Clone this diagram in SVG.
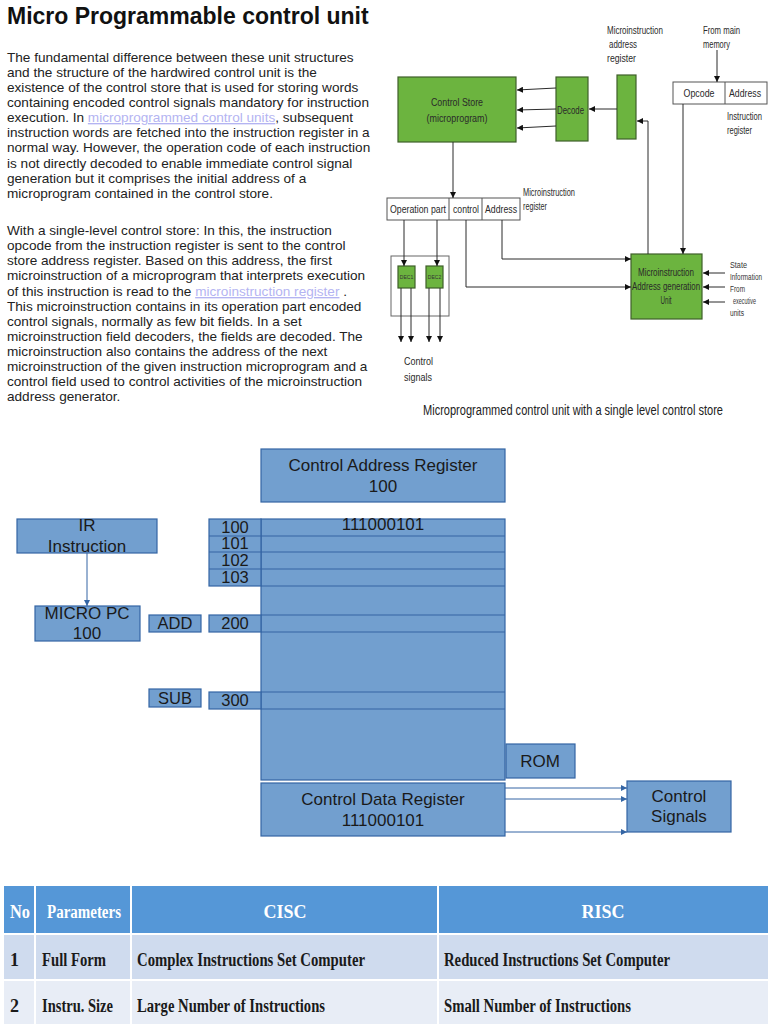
<svg xmlns="http://www.w3.org/2000/svg" width="768" height="1024" viewBox="0 0 768 1024">
<style>
.p{font-family:"Liberation Sans",Arial,sans-serif;font-size:13.6px;fill:#222}
.lk{fill:#b4b4f2;text-decoration:underline}
.g{fill:#6cb43f;stroke:#3f5f2a;stroke-width:1.2}
.w{fill:#fff;stroke:#555;stroke-width:1}
.t{font-family:"Liberation Sans",Arial,sans-serif;font-size:11px;fill:#2a2a2a}
.s{font-family:"Liberation Sans",Arial,sans-serif;font-size:8.5px;fill:#333}
.c{stroke:#2b2b2b;stroke-width:1;fill:none}
.b{fill:#729fcf;stroke:#3465a4;stroke-width:1.2}
.bt{font-family:"Liberation Sans",Arial,sans-serif;font-size:17px;fill:#1a1a1a}
.bs{font-family:"Liberation Sans",Arial,sans-serif;font-size:16.5px;fill:#1a1a1a}
.bl{stroke:#3465a4;stroke-width:1;fill:none}
.th{font-family:"Liberation Serif","Times New Roman",serif;font-weight:bold;font-size:18px;fill:#fff}
.td{font-family:"Liberation Serif","Times New Roman",serif;font-weight:bold;font-size:18px;fill:#1a1a1a}
</style>
<defs>
<marker id="ak" viewBox="0 0 10 10" refX="10" refY="5" markerWidth="6" markerHeight="6" markerUnits="userSpaceOnUse" orient="auto"><path d="M0,0 L10,5 L0,10 z" fill="#111"/></marker>
<marker id="ab" viewBox="0 0 10 10" refX="10" refY="5" markerWidth="6" markerHeight="6" markerUnits="userSpaceOnUse" orient="auto"><path d="M0,0 L10,5 L0,10 z" fill="#3465a4"/></marker>
</defs>
<rect width="768" height="1024" fill="#fff"/>

<g id="article">
<text x="7" y="24" font-family="Liberation Sans,Arial,sans-serif" font-weight="bold" font-size="23" fill="#111">Micro Programmable control unit</text>
<text class="p" x="7" y="62">The fundamental difference between these unit structures</text>
<text class="p" x="7" y="77">and the structure of the hardwired control unit is the</text>
<text class="p" x="7" y="92">existence of the control store that is used for storing words</text>
<text class="p" x="7" y="107">containing encoded control signals mandatory for instruction</text>
<text class="p" x="7" y="122">execution. In <tspan class="lk">microprogrammed control units</tspan>, subsequent</text>
<text class="p" x="7" y="137">instruction words are fetched into the instruction register in a</text>
<text class="p" x="7" y="152">normal way. However, the operation code of each instruction</text>
<text class="p" x="7" y="168">is not directly decoded to enable immediate control signal</text>
<text class="p" x="7" y="183">generation but it comprises the initial address of a</text>
<text class="p" x="7" y="198">microprogram contained in the control store.</text>
<text class="p" x="7" y="235">With a single-level control store: In this, the instruction</text>
<text class="p" x="7" y="250">opcode from the instruction register is sent to the control</text>
<text class="p" x="7" y="265">store address register. Based on this address, the first</text>
<text class="p" x="7" y="280">microinstruction of a microprogram that interprets execution</text>
<text class="p" x="7" y="296">of this instruction is read to the <tspan class="lk">microinstruction register</tspan> .</text>
<text class="p" x="7" y="311">This microinstruction contains in its operation part encoded</text>
<text class="p" x="7" y="326">control signals, normally as few bit fields. In a set</text>
<text class="p" x="7" y="341">microinstruction field decoders, the fields are decoded. The</text>
<text class="p" x="7" y="356">microinstruction also contains the address of the next</text>
<text class="p" x="7" y="371">microinstruction of the given instruction microprogram and a</text>
<text class="p" x="7" y="386">control field used to control activities of the microinstruction</text>
<text class="p" x="7" y="401">address generator.</text>
</g>

<!-- top-right diagram nodes -->
<g id="control-store"><rect class="g" x="398" y="77" width="118" height="65"/>
<text class="t" x="457" y="106" text-anchor="middle" textLength="52" lengthAdjust="spacingAndGlyphs">Control Store</text>
<text class="t" x="457" y="122" text-anchor="middle" textLength="61" lengthAdjust="spacingAndGlyphs">(microprogram)</text></g>
<g id="decode"><rect class="g" x="556" y="77" width="32" height="64"/>
<text class="t" x="557" y="114" textLength="27" lengthAdjust="spacingAndGlyphs">Decode</text></g>
<g id="mar"><rect class="g" x="617" y="75" width="19" height="64"/>
<text class="t" x="607" y="34" textLength="56" lengthAdjust="spacingAndGlyphs">Microinstruction</text>
<text class="t" x="609" y="48" textLength="28" lengthAdjust="spacingAndGlyphs">address</text>
<text class="t" x="607" y="62" textLength="29" lengthAdjust="spacingAndGlyphs">register</text></g>
<g id="memory-label"><text class="t" x="703" y="34" textLength="37" lengthAdjust="spacingAndGlyphs">From main</text>
<text class="t" x="703" y="48" textLength="27" lengthAdjust="spacingAndGlyphs">memory</text></g>
<g id="instruction-register"><rect class="w" x="673" y="82" width="94" height="22"/><line x1="725" y1="82" x2="725" y2="104" stroke="#555"/>
<text class="t" x="699" y="97" text-anchor="middle" textLength="31" lengthAdjust="spacingAndGlyphs">Opcode</text>
<text class="t" x="745" y="97" text-anchor="middle" textLength="32" lengthAdjust="spacingAndGlyphs">Address</text>
<text class="t" x="727" y="120" textLength="35" lengthAdjust="spacingAndGlyphs">Instruction</text>
<text class="t" x="727" y="134" textLength="25" lengthAdjust="spacingAndGlyphs">register</text></g>
<g id="microinstruction-register"><rect class="w" x="387" y="198" width="133" height="22"/>
<line x1="449" y1="198" x2="449" y2="220" stroke="#555"/><line x1="482" y1="198" x2="482" y2="220" stroke="#555"/>
<text class="t" x="418" y="213" text-anchor="middle" textLength="56" lengthAdjust="spacingAndGlyphs">Operation part</text>
<text class="t" x="466" y="213" text-anchor="middle" textLength="26" lengthAdjust="spacingAndGlyphs">control</text>
<text class="t" x="501" y="213" text-anchor="middle" textLength="32" lengthAdjust="spacingAndGlyphs">Address</text>
<text class="t" x="523" y="196" textLength="52" lengthAdjust="spacingAndGlyphs">Microinstruction</text>
<text class="t" x="523" y="210" textLength="24" lengthAdjust="spacingAndGlyphs">register</text></g>
<g id="decoders"><rect x="391" y="256" width="58" height="60" fill="none" stroke="#666"/>
<rect class="g" x="398" y="266" width="17" height="22"/><rect class="g" x="426" y="266" width="17" height="22"/>
<text x="406.5" y="279" text-anchor="middle" font-family="Liberation Sans,Arial,sans-serif" font-size="5" fill="#333">DEC1</text>
<text x="434.5" y="279" text-anchor="middle" font-family="Liberation Sans,Arial,sans-serif" font-size="5" fill="#333">DEC2</text>
<text class="t" x="404" y="365" textLength="29" lengthAdjust="spacingAndGlyphs">Control</text>
<text class="t" x="404" y="381" textLength="28" lengthAdjust="spacingAndGlyphs">signals</text></g>
<g id="address-generation-unit"><rect class="g" x="631" y="254" width="71" height="65"/>
<text class="t" x="666" y="276" text-anchor="middle" textLength="56" lengthAdjust="spacingAndGlyphs">Microinstruction</text>
<text class="t" x="666" y="290" text-anchor="middle" textLength="68" lengthAdjust="spacingAndGlyphs">Address generation</text>
<text class="t" x="666" y="304" text-anchor="middle" textLength="11" lengthAdjust="spacingAndGlyphs">Unit</text>
<text class="s" x="730" y="268" textLength="17" lengthAdjust="spacingAndGlyphs">State</text>
<text class="s" x="730" y="280" textLength="32" lengthAdjust="spacingAndGlyphs">Information</text>
<text class="s" x="730" y="292" textLength="15" lengthAdjust="spacingAndGlyphs">From</text>
<text class="s" x="733" y="304" textLength="23" lengthAdjust="spacingAndGlyphs">executive</text>
<text class="s" x="730" y="316" textLength="14" lengthAdjust="spacingAndGlyphs">units</text></g>
<text x="573" y="415" text-anchor="middle" font-family="Liberation Sans,Arial,sans-serif" font-size="14" fill="#222" textLength="300" lengthAdjust="spacingAndGlyphs">Microprogrammed control unit with a single level control store</text>

<g id="connectors">
<line class="c" x1="556" y1="88" x2="517" y2="90" marker-end="url(#ak)"/>
<line class="c" x1="556" y1="109" x2="517" y2="110" marker-end="url(#ak)"/>
<line class="c" x1="556" y1="126" x2="517" y2="128" marker-end="url(#ak)"/>
<line class="c" x1="617" y1="109" x2="589" y2="109" marker-end="url(#ak)"/>
<polyline class="c" points="648,254 648,121 637,121" marker-end="url(#ak)"/>
<line class="c" x1="717" y1="50" x2="717" y2="82" marker-end="url(#ak)"/>
<line class="c" x1="683" y1="104" x2="683" y2="254" marker-end="url(#ak)"/>
<line class="c" x1="453" y1="142" x2="453" y2="198" marker-end="url(#ak)"/>
<line class="c" x1="404" y1="220" x2="404" y2="266" marker-end="url(#ak)"/>
<line class="c" x1="437" y1="220" x2="437" y2="266" marker-end="url(#ak)"/>
<line class="c" x1="401" y1="288" x2="401" y2="342" marker-end="url(#ak)"/>
<line class="c" x1="411" y1="288" x2="411" y2="342" marker-end="url(#ak)"/>
<line class="c" x1="429" y1="288" x2="429" y2="342" marker-end="url(#ak)"/>
<line class="c" x1="440" y1="288" x2="440" y2="342" marker-end="url(#ak)"/>
<polyline class="c" points="466,220 466,287 631,287" marker-end="url(#ak)"/>
<polyline class="c" points="502,220 502,259 631,259" marker-end="url(#ak)"/>
<line class="c" x1="725" y1="273" x2="703" y2="273" marker-end="url(#ak)"/>
<line class="c" x1="725" y1="287" x2="703" y2="287" marker-end="url(#ak)"/>
<line class="c" x1="725" y1="302" x2="703" y2="302" marker-end="url(#ak)"/>
<line class="bl" x1="87" y1="553" x2="87" y2="606" marker-end="url(#ab)"/>
<line class="bl" x1="505" y1="788" x2="627" y2="788" marker-end="url(#ab)"/>
<line class="bl" x1="505" y1="799" x2="627" y2="799" marker-end="url(#ab)"/>
<line class="bl" x1="505" y1="832" x2="627" y2="832" marker-end="url(#ab)"/>
</g>

<!-- middle diagram -->
<g id="control-address-register"><rect class="b" x="261" y="449" width="244" height="53"/>
<text class="bt" x="383" y="471" text-anchor="middle">Control Address Register</text>
<text class="bt" x="383" y="492" text-anchor="middle">100</text></g>
<g id="rom-memory"><rect class="b" x="261" y="519" width="244" height="261"/>
<g stroke="#3465a4" stroke-width="1.2">
<line x1="261" y1="536" x2="505" y2="536"/><line x1="261" y1="552" x2="505" y2="552"/>
<line x1="261" y1="569" x2="505" y2="569"/><line x1="261" y1="586" x2="505" y2="586"/>
<line x1="261" y1="615" x2="505" y2="615"/><line x1="261" y1="632" x2="505" y2="632"/>
<line x1="261" y1="692" x2="505" y2="692"/><line x1="261" y1="709" x2="505" y2="709"/></g>
<text class="bt" x="383" y="530" text-anchor="middle">111000101</text></g>
<g id="addr-100-103"><rect class="b" x="209" y="519" width="52" height="67"/>
<line x1="209" y1="536" x2="261" y2="536" stroke="#3465a4" stroke-width="1.2"/><line x1="209" y1="552" x2="261" y2="552" stroke="#3465a4" stroke-width="1.2"/><line x1="209" y1="569" x2="261" y2="569" stroke="#3465a4" stroke-width="1.2"/>
<text class="bs" x="235" y="533" text-anchor="middle">100</text>
<text class="bs" x="235" y="549" text-anchor="middle">101</text>
<text class="bs" x="235" y="566" text-anchor="middle">102</text>
<text class="bs" x="235" y="583" text-anchor="middle">103</text></g>
<g id="addr-200"><rect class="b" x="209" y="615" width="52" height="17"/><text class="bs" x="235" y="629" text-anchor="middle">200</text></g>
<g id="addr-300"><rect class="b" x="209" y="692" width="52" height="17"/><text class="bs" x="235" y="706" text-anchor="middle">300</text></g>
<g id="ir-instruction"><rect class="b" x="17" y="519" width="140" height="34"/>
<text class="bt" x="87" y="531" text-anchor="middle">IR</text>
<text class="bt" x="87" y="552" text-anchor="middle">Instruction</text></g>
<g id="micro-pc"><rect class="b" x="35" y="606" width="105" height="35"/>
<text class="bt" x="87" y="619" text-anchor="middle">MICRO PC</text>
<text class="bt" x="87" y="639" text-anchor="middle">100</text></g>
<g id="add"><rect class="b" x="149" y="615" width="52" height="17"/><text class="bs" x="175" y="629" text-anchor="middle">ADD</text></g>
<g id="sub"><rect class="b" x="149" y="689" width="52" height="18"/><text class="bs" x="175" y="704" text-anchor="middle">SUB</text></g>
<g id="rom"><rect class="b" x="506" y="744" width="69" height="34"/><text class="bt" x="540" y="767" text-anchor="middle">ROM</text></g>
<g id="control-data-register"><rect class="b" x="261" y="783" width="244" height="53"/>
<text class="bt" x="383" y="805" text-anchor="middle">Control Data Register</text>
<text class="bt" x="383" y="826" text-anchor="middle">111000101</text></g>
<g id="control-signals"><rect class="b" x="627" y="781" width="104" height="51"/>
<text class="bt" x="679" y="802" text-anchor="middle">Control</text>
<text class="bt" x="679" y="822" text-anchor="middle">Signals</text></g>

<!-- table -->
<g id="table">
<rect x="4" y="886" width="764" height="47" fill="#5597d7"/>
<rect x="4" y="935" width="764" height="44" fill="#cfdbee"/>
<rect x="4" y="981" width="764" height="43" fill="#e8edf6"/>
<g stroke="#fff" stroke-width="2"><line x1="35" y1="886" x2="35" y2="1024"/><line x1="131" y1="886" x2="131" y2="1024"/><line x1="438" y1="886" x2="438" y2="1024"/></g>
<text class="th" x="10" y="918" textLength="20" lengthAdjust="spacingAndGlyphs">No</text>
<text class="th" x="47" y="918" textLength="74" lengthAdjust="spacingAndGlyphs">Parameters</text>
<text class="th" x="285" y="918" text-anchor="middle">CISC</text>
<text class="th" x="603" y="918" text-anchor="middle">RISC</text>
<text class="td" x="10" y="966">1</text>
<text class="td" x="42" y="966" textLength="64" lengthAdjust="spacingAndGlyphs">Full Form</text>
<text class="td" x="137" y="966" textLength="228" lengthAdjust="spacingAndGlyphs">Complex Instructions Set Computer</text>
<text class="td" x="444" y="966" textLength="226" lengthAdjust="spacingAndGlyphs">Reduced Instructions Set Computer</text>
<text class="td" x="10" y="1012">2</text>
<text class="td" x="42" y="1012" textLength="71" lengthAdjust="spacingAndGlyphs">Instru. Size</text>
<text class="td" x="137" y="1012" textLength="188" lengthAdjust="spacingAndGlyphs">Large Number of Instructions</text>
<text class="td" x="444" y="1012" textLength="187" lengthAdjust="spacingAndGlyphs">Small Number of Instructions</text>
</g>
</svg>
